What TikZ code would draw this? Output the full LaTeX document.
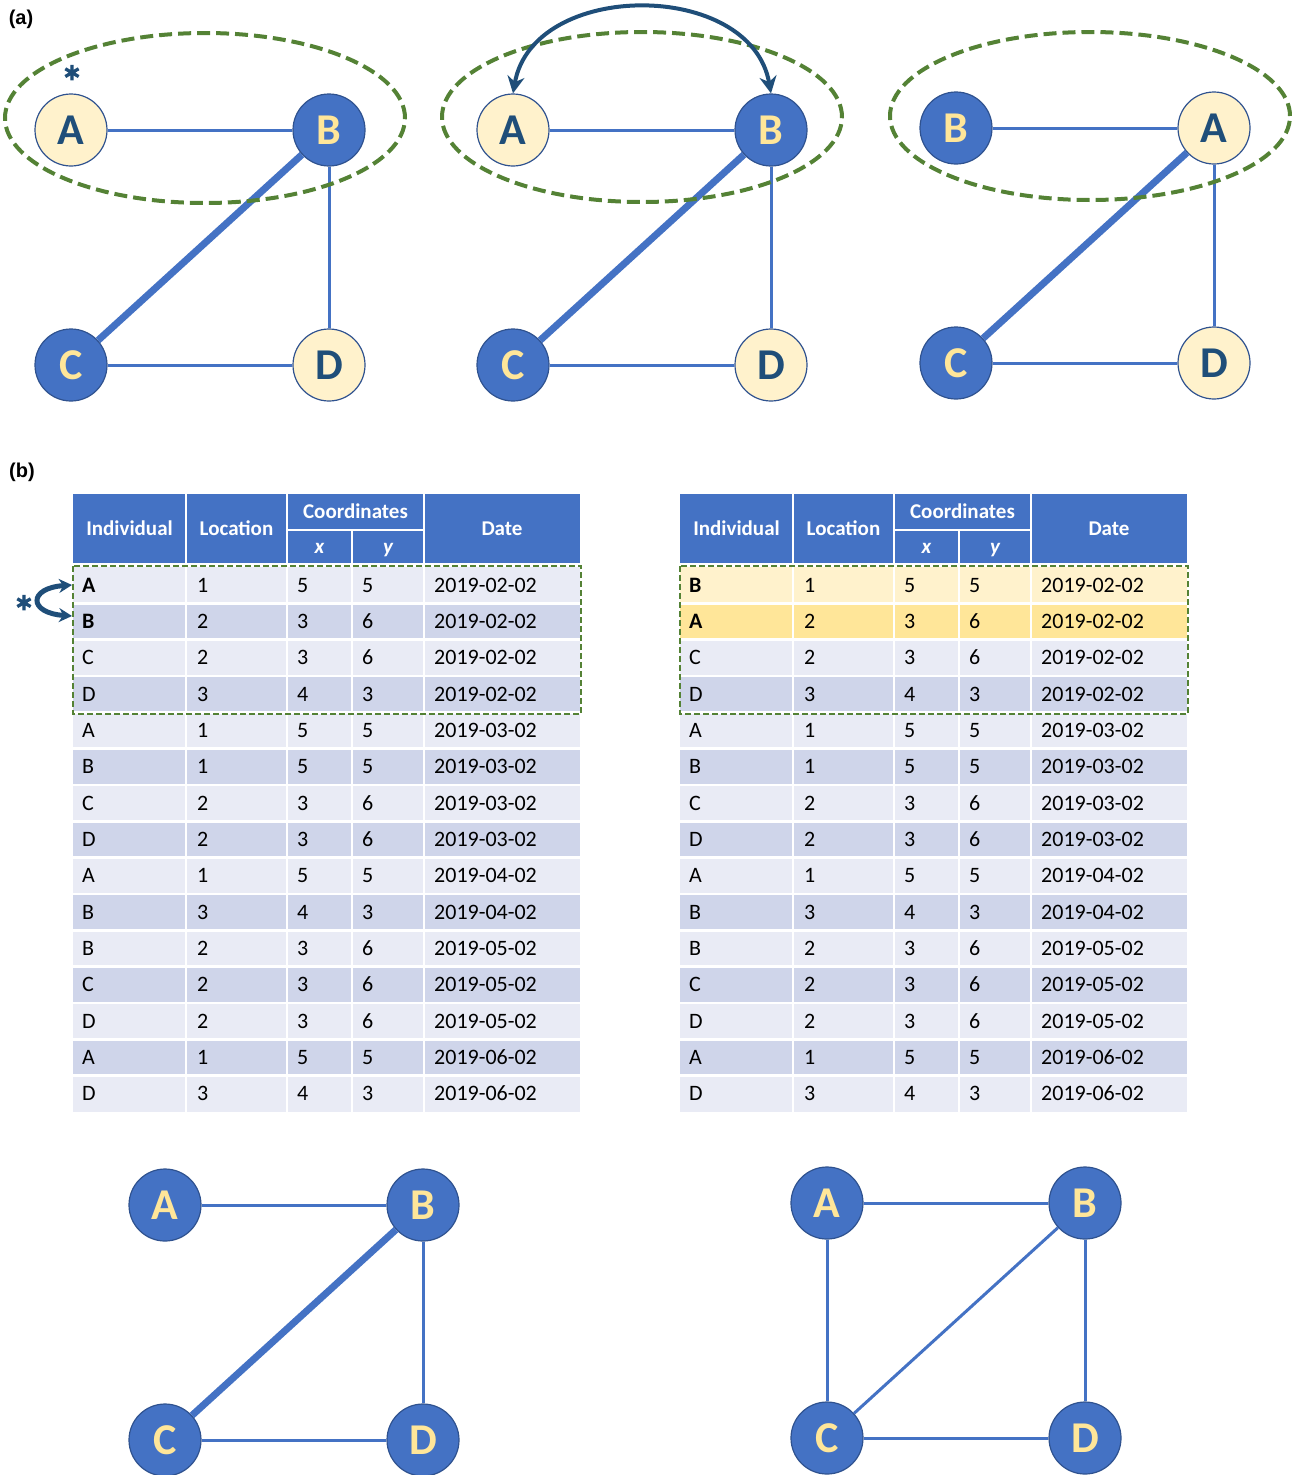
\documentclass[tikz,border=0pt]{standalone}
\usepackage{fontspec}
\setmainfont{Carlito}
\newfontfamily\labelfont{Liberation Sans}
\newfontfamily\markfont[FakeBold=3]{Carlito}
\usetikzlibrary{shapes.geometric, arrows.meta}
\definecolor{nodeblue}{HTML}{4472C4}
\definecolor{nodeline}{HTML}{2F528F}
\definecolor{nodecream}{HTML}{FFF2CC}
\definecolor{lettergold}{HTML}{FFE699}
\definecolor{navy}{HTML}{1F4E79}
\definecolor{ringgreen}{HTML}{548235}
\definecolor{rowlight}{HTML}{E9EBF5}
\definecolor{rowdark}{HTML}{CFD5EA}
\definecolor{rowswapB}{HTML}{FFF2CC}
\definecolor{rowswapA}{HTML}{FFE699}
\tikzstyle{bluenode} = [circle, minimum size=72pt, inner sep=0pt, fill=nodeblue, draw=nodeline, line width=1.2pt, text=lettergold, font=\fontsize{44}{44}\selectfont\bfseries]
\tikzstyle{creamnode} = [bluenode, fill=nodecream, text=navy]
\tikzstyle{link} = [nodeblue, line width=3pt]
\tikzstyle{heavylink} = [nodeblue, line width=7pt]
\tikzstyle{groupring} = [ringgreen, line width=4pt, dash pattern=on 13pt off 6pt]
\tikzstyle{groupbox} = [ringgreen, line width=2pt, dash pattern=on 6pt off 3pt]
\tikzstyle{swaparrow} = [navy, line width=4pt, {Stealth[length=17pt, width=17pt]}-{Stealth[length=17pt, width=17pt]}]
\tikzstyle{swapsign} = [text=navy, inner sep=0pt, font=\fontsize{46}{46}\selectfont\markfont]
\tikzstyle{headtext} = [text=white, inner sep=0pt, text height=13.5pt, text depth=0pt, font=\fontsize{21}{21}\selectfont\bfseries]
\tikzstyle{celltext} = [anchor=west, inner sep=0pt, text height=14pt, text depth=0pt, font=\fontsize{22}{22}\selectfont]
\tikzstyle{gridline} = [white, line width=2.5pt]
\tikzstyle{panellabel} = [inner sep=0pt, font=\labelfont\bfseries\fontsize{20}{20}\selectfont]
% one data row of a table: #1 table, #2 row, #3 fill, #4-#8 cells
\newcommand{\datarow}[8]{%
  \pgfmathsetmacro\rowtop{-567-(#2-1)*36.33}
  \pgfmathsetmacro\rowmid{\rowtop-18.17}
  \fill [#3] (0,\rowtop) rectangle (507,\rowtop-36.33);
  \node (#1-#2-ind) [celltext] at (9,\rowmid) {#4};
  \node (#1-#2-loc) [celltext] at (124,\rowmid) {#5};
  \node (#1-#2-x) [celltext] at (224,\rowmid) {#6};
  \node (#1-#2-y) [celltext] at (289,\rowmid) {#7};
  \node (#1-#2-date) [celltext] at (361,\rowmid) {#8};
}
\begin{document}
\begin{tikzpicture}[x=1pt, y=1pt, node distance=258pt]
\useasboundingbox (0,0) rectangle (1291,-1475);

% (a) networks before and after the swap
\node (lab a) [panellabel] at (21,-19) {(a)};

\node (a1) [creamnode] at (71,-130) {A};
\node (b1) [bluenode, right of=a1] {B};
\node (c1) [bluenode, node distance=235pt, below of=a1] {C};
\node (d1) [creamnode, right of=c1] {D};
\draw [link] (a1) -- (b1);
\draw [heavylink] (b1) -- (c1);
\draw [link] (b1) -- (d1);
\draw [link] (c1) -- (d1);
\draw [groupring] (205,-118) ellipse [x radius=200pt, y radius=85pt];
\node (mark a) [swapsign] at (72,-82) {*};

\node (a2) [creamnode] at (513,-130) {A};
\node (b2) [bluenode, right of=a2] {B};
\node (c2) [bluenode, node distance=235pt, below of=a2] {C};
\node (d2) [creamnode, right of=c2] {D};
\draw [link] (a2) -- (b2);
\draw [heavylink] (b2) -- (c2);
\draw [link] (b2) -- (d2);
\draw [link] (c2) -- (d2);
\draw [groupring] (642,-117) ellipse [x radius=200pt, y radius=85pt];
\draw [swaparrow] (a2.north) to[out=80, in=100, looseness=1.15] (b2.north);

\node (b3) [bluenode] at (956,-128) {B};
\node (a3) [creamnode, right of=b3] {A};
\node (c3) [bluenode, node distance=235pt, below of=b3] {C};
\node (d3) [creamnode, right of=c3] {D};
\draw [link] (b3) -- (a3);
\draw [heavylink] (a3) -- (c3);
\draw [link] (a3) -- (d3);
\draw [link] (c3) -- (d3);
\draw [groupring] (1090,-116) ellipse [x radius=200pt, y radius=84pt];

% (b) the two tables
\node (lab b) [panellabel] at (22,-472) {(b)};

\foreach \tx/\tn in {73/L, 680/R} {
  \begin{scope}[xshift=\tx pt]
    \fill [nodeblue] (0,-494) rectangle (507,-563);
    \node (\tn-ind) [headtext] at (56.5,-529) {Individual};
    \node (\tn-loc) [headtext] at (163.5,-529) {Location};
    \node (\tn-coord) [headtext] at (282.5,-512) {Coordinates};
    \node (\tn-x) [headtext] at (246.5,-547) {\itshape x};
    \node (\tn-y) [headtext] at (315,-547) {\itshape y};
    \node (\tn-date) [headtext] at (429,-529) {Date};
    \foreach \ind/\loc/\cx/\cy/\dt [count=\r from 5] in {A/1/5/5/2019-03-02, B/1/5/5/2019-03-02, C/2/3/6/2019-03-02, D/2/3/6/2019-03-02, A/1/5/5/2019-04-02, B/3/4/3/2019-04-02, B/2/3/6/2019-05-02, C/2/3/6/2019-05-02, D/2/3/6/2019-05-02, A/1/5/5/2019-06-02, D/3/4/3/2019-06-02} {
      \ifodd\r \def\fc{rowlight}\else \def\fc{rowdark}\fi
      \datarow{\tn}{\r}{\fc}{\ind}{\loc}{\cx}{\cy}{\dt}
    }
  \end{scope}
}

\begin{scope}[xshift=73pt]
  \foreach \fc/\ind/\loc/\cx/\cy/\dt [count=\r] in {rowlight/\textbf{A}/1/5/5/2019-02-02, rowdark/\textbf{B}/2/3/6/2019-02-02, rowlight/C/2/3/6/2019-02-02, rowdark/D/3/4/3/2019-02-02}
    \datarow{L}{\r}{\fc}{\ind}{\loc}{\cx}{\cy}{\dt};
\end{scope}
\begin{scope}[xshift=680pt]
  \foreach \fc/\ind/\loc/\cx/\cy/\dt [count=\r] in {rowswapB/\textbf{B}/1/5/5/2019-02-02, rowswapA/\textbf{A}/2/3/6/2019-02-02, rowlight/C/2/3/6/2019-02-02, rowdark/D/3/4/3/2019-02-02}
    \datarow{R}{\r}{\fc}{\ind}{\loc}{\cx}{\cy}{\dt};
\end{scope}

% white cell borders and the dashed groups
\foreach \tx in {73, 680} {
  \begin{scope}[xshift=\tx pt]
    \foreach \c in {113, 214, 351}
      \draw [gridline] (\c,-494) -- (\c,-1112);
    \draw [gridline] (279,-530) -- (279,-1112);
    \draw [gridline] (214,-530) -- (351,-530);
    \foreach \k in {1,...,14}
      \draw [gridline] (0,-567-\k*36.33) -- (507,-567-\k*36.33);
    \draw [groupbox] (0,-566) rectangle (508,-714);
  \end{scope}
}

\coordinate (swap top) at (72,-585);
\coordinate (swap bot) at (72,-616);
\draw [swaparrow, line width=5pt, {Stealth[length=13pt, width=14pt]}-{Stealth[length=13pt, width=14pt]}] (swap top) .. controls (28,-588) and (28,-613) .. (swap bot);
\node (mark b) [swapsign] at (24,-612) {*};

% networks built from the tables
\node (a4) [bluenode] at (165,-1205) {A};
\node (b4) [bluenode, right of=a4] {B};
\node (c4) [bluenode, node distance=235pt, below of=a4] {C};
\node (d4) [bluenode, right of=c4] {D};
\draw [link] (a4) -- (b4);
\draw [heavylink] (b4) -- (c4);
\draw [link] (b4) -- (d4);
\draw [link] (c4) -- (d4);

\node (a5) [bluenode] at (827,-1203) {A};
\node (b5) [bluenode, right of=a5] {B};
\node (c5) [bluenode, node distance=235pt, below of=a5] {C};
\node (d5) [bluenode, right of=c5] {D};
\draw [link] (a5) -- (b5);
\draw [link] (a5) -- (c5);
\draw [link] (b5) -- (d5);
\draw [link] (c5) -- (d5);
\draw [link] (b5) -- (c5);
\end{tikzpicture}
\end{document}
